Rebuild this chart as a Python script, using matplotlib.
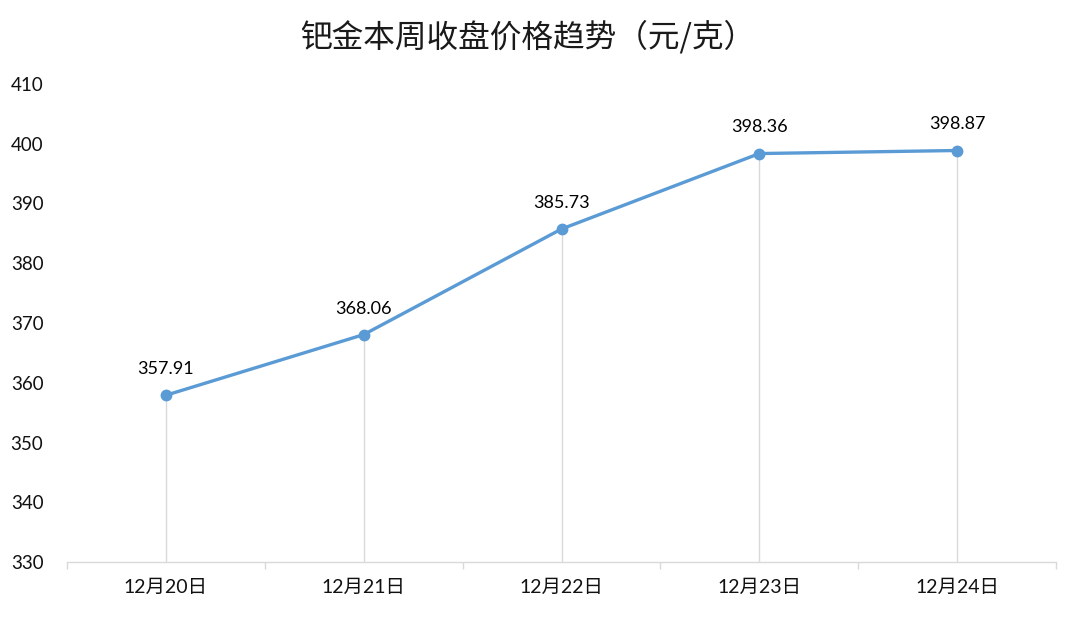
import matplotlib
matplotlib.use("Agg")
import matplotlib.pyplot as plt

categories = ["12月20日", "12月21日", "12月22日", "12月23日", "12月24日"]
prices = [357.91, 368.06, 385.73, 398.36, 398.87]
yticks = [330, 340, 350, 360, 370, 380, 390, 400, 410]
title = "钯金本周收盘价格趋势（元/克）"

fam = ["Lato", "Noto Sans CJK SC", "DejaVu Sans"]
plt.rcParams["font.family"] = fam

fig = plt.figure(figsize=(10.8, 6.18), dpi=100)
ax = fig.add_axes([67/1080, 56/618, 989/1080, 478/618])

x = list(range(len(categories)))
line_color = "#5B9BD5"
ax.vlines(x, yticks[0], prices, colors="#D9D9D9", linewidth=1.0, zorder=1)
ax.plot(x, prices, color=line_color, linewidth=2.4, marker="o", markersize=7.5, zorder=3)
for xi, v in zip(x, prices):
    ax.annotate(f"{v:.2f}", (xi, v), xytext=(0, 13), textcoords="offset points",
                ha="center", va="bottom", fontsize=13, color="#000000", family=fam)

ax.set_xlim(-0.5, len(categories) - 0.5)
ax.set_ylim(yticks[0], yticks[-1])
ax.set_yticks(yticks)
ax.set_yticklabels([str(t) for t in yticks], fontsize=13.5, color="#111111")
ax.tick_params(axis="y", length=0, pad=17)

ax.set_xticks(x)
ax.set_xticklabels(categories, fontsize=14, family=fam, color="#111111")
ax.tick_params(axis="x", length=0, pad=12)
ax.set_xticks([i - 0.5 for i in range(len(categories) + 1)], minor=True)
ax.tick_params(axis="x", which="minor", length=5, color="#D9D9D9", width=1)

for s in ["top", "right", "left"]:
    ax.spines[s].set_visible(False)
ax.spines["bottom"].set_color("#D9D9D9")
ax.spines["bottom"].set_linewidth(1.0)

fig.text(528/1080, 1 - 37/618, title, ha="center", va="center", fontsize=22.8, color="#1a1a1a",
         family=["Noto Sans CJK SC", "DejaVu Sans"])

fig.savefig("out.png", dpi=100, facecolor="white")
